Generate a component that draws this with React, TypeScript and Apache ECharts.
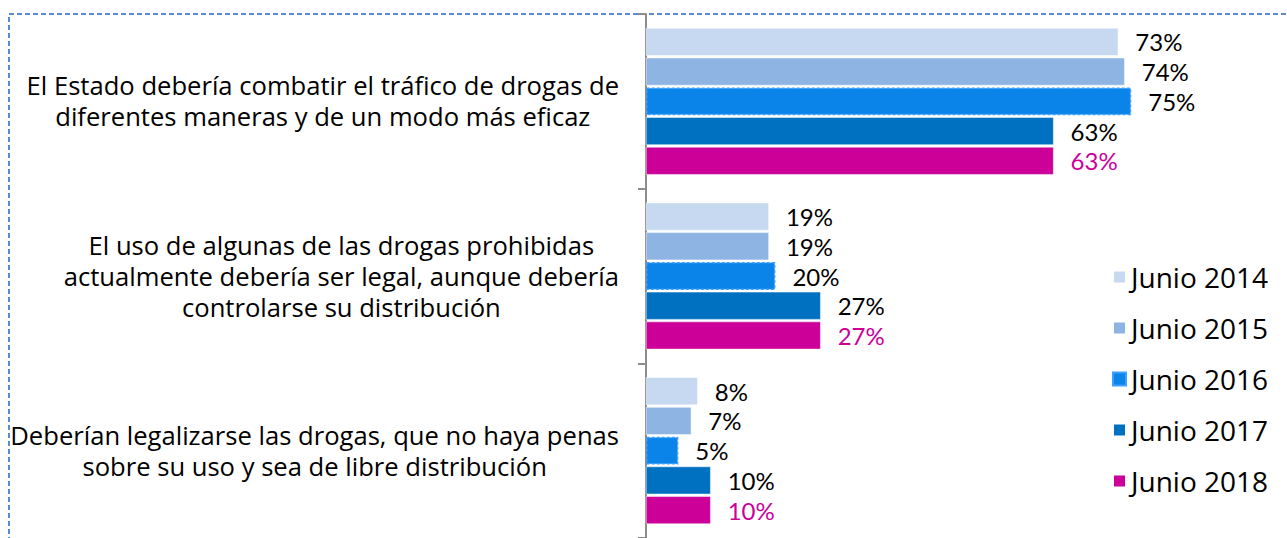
import React, { useEffect, useRef } from "react";
import * as echarts from "echarts";

const categories = [
  "El Estado debería combatir el tráfico de drogas de\ndiferentes maneras y de un modo más eficaz",
  "El uso de algunas de las drogas prohibidas\nactualmente debería ser legal, aunque debería\ncontrolarse su distribución",
  "Deberían legalizarse las drogas, que no haya penas\nsobre su uso y sea de libre distribución",
];
const seriesNames = ["Junio 2014", "Junio 2015", "Junio 2016", "Junio 2017", "Junio 2018"];
const values2014 = [73, 19, 8];
const values2015 = [74, 19, 7];
const values2016 = [75, 20, 5];
const values2017 = [63, 27, 10];
const values2018 = [63, 27, 10];
const seriesValues = [values2014, values2015, values2016, values2017, values2018];
const colors = ["#c6d9f1", "#8eb4e3", "#0a84e8", "#0070c0", "#cc0099"];
const labelColors = ["#000000", "#000000", "#000000", "#000000", "#cc0099"];

const FONT = "Lato, 'DejaVu Sans', sans-serif";
const CAT_FONT = "'Open Sans', 'DejaVu Sans', sans-serif";

export default function App() {
  const ref = useRef<HTMLDivElement>(null);
  useEffect(() => {
    if (!ref.current) return;
    const chart = echarts.init(ref.current, null, { renderer: "svg" });
    chart.setOption({
      animation: false,
      textStyle: { fontFamily: FONT },
      graphic: [
        {
          type: "rect",
          shape: { x: 9, y: 14, width: 1300, height: 560 },
          style: { fill: "none", stroke: "#5b8bd0", lineWidth: 2, lineDash: [5, 3] },
          silent: true,
          z: -1,
        },
      ],
      legend: {
        orient: "vertical",
        left: 1107,
        top: 258,
        itemWidth: 13,
        itemHeight: 13,
        itemGap: 23,
        icon: "rect",
        textStyle: { fontSize: 28, color: "#000", fontFamily: CAT_FONT, padding: [0, 0, 0, 0] },
        data: seriesNames,
      },
      grid: { left: 646, top: 14, width: 517.6, height: 530, containLabel: false },
      xAxis: {
        type: "value",
        min: 0,
        max: 80,
        show: false,
        splitLine: { show: false },
      },
      yAxis: {
        type: "category",
        inverse: true,
        data: categories,
        axisLine: { show: true, lineStyle: { color: "#8c8c8c", width: 2 } },
        axisTick: { show: true, length: 8, lineStyle: { color: "#8c8c8c", width: 2 } },
        axisLabel: {
          margin: 27,
          formatter: (v: string) =>
            v
              .split("\n")
              .map((l) => "{c|" + l + "}")
              .join("\n"),
          rich: {
            c: { align: "center", fontSize: 25.6, lineHeight: 31, color: "#000", fontFamily: CAT_FONT },
          },
        },
      },
      series: seriesNames.map((name, i) => ({
        name,
        type: "bar",
        data: seriesValues[i],
        barCategoryGap: "16%",
        barGap: "7%",
        itemStyle:
          i === 2
            ? { color: colors[i], borderColor: "#3da0ff", borderWidth: 1.5, borderType: [3, 2] }
            : { color: colors[i], borderColor: "#ffffff", borderWidth: 0.5 },
        label: {
          show: true,
          position: "right",
          distance: 17,
          formatter: "{c}%",
          fontSize: 24,
          color: labelColors[i],
          fontFamily: FONT,
        },
      })),
    });
    return () => chart.dispose();
  }, []);
  return (
    <div
      ref={ref}
      style={{ position: "absolute", left: 0, top: 0, width: 1287, height: 538, background: "#fff" }}
    />
  );
}
